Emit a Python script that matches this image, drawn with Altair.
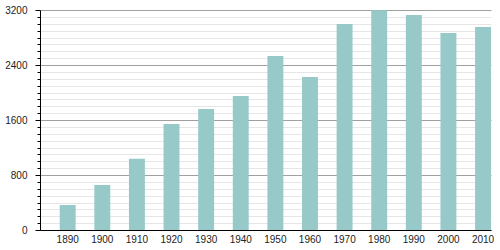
import altair as alt
import pandas as pd

years = ["1890", "1900", "1910", "1920", "1930", "1940", "1950", "1960", "1970", "1980", "1990", "2000", "2010"]
population = [364, 655, 1037, 1542, 1760, 1949, 2531, 2225, 2996, 3195, 3127, 2865, 2953]
y_ticks = list(range(0, 3201, 100))

df = pd.DataFrame({"year": years, "pop": population})

chart = alt.Chart(df).mark_bar(color="#96C9C8").encode(
    x=alt.X("year:O", title=None,
            scale=alt.Scale(paddingInner=0.54, paddingOuter=0.285, align=1),
            axis=alt.Axis(labelAngle=0, ticks=False, domainColor="#000", domainWidth=1,
                          labelFont="Liberation Sans", labelFontSize=10, labelColor="#222",
                          labelPadding=4, grid=False)),
    y=alt.Y("pop:Q", title=None,
            scale=alt.Scale(domain=[0, 3200], nice=False),
            axis=alt.Axis(values=y_ticks, labelOverlap=False,
                          labelExpr="datum.value % 800 == 0 ? datum.label : ''",
                          format="d",
                          gridColor=alt.condition("datum.value % 800 == 0", alt.value("#a0a0a0"), alt.value("#e6e6e6")),
                          gridWidth=1,
                          tickColor="#000",
                          tickSize=alt.condition("datum.value % 800 == 0", alt.value(5), alt.value(3)),
                          domainColor="#000", domainWidth=1,
                          labelFont="Liberation Sans", labelFontSize=10, labelColor="#222",
                          labelPadding=8)),
).properties(
    width=451, height=220,
    autosize=alt.AutoSizeParams(type="none"),
    padding={"left": 40, "top": 10, "right": 9, "bottom": 20},
).configure_view(stroke=None)

chart.save("out.html", embed_options={"renderer": "svg", "actions": False})
